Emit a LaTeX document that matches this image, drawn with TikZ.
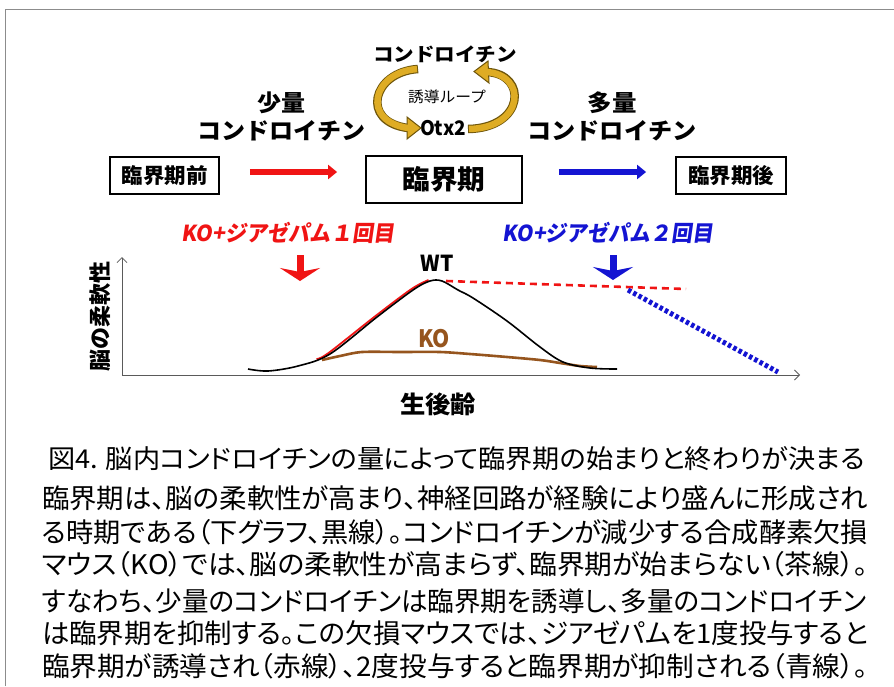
\documentclass[tikz,border=0pt]{standalone}
\usepackage{fontspec}
\usepackage{graphicx}
\setmainfont{Noto Sans CJK JP}
\newfontfamily\jp{Noto Sans CJK JP}
\newfontfamily\jpp[RawFeature=+palt]{Noto Sans CJK JP}
\newfontfamily\jpsl[FakeSlant=0.15]{Noto Sans CJK JP}
\usetikzlibrary{arrows.meta}
\newcommand\fitw[2]{\resizebox{#1}{\height}{#2}}
\definecolor{framec}{RGB}{140,140,140}
\definecolor{goldc}{RGB}{222,172,36}
\definecolor{gdark}{RGB}{110,85,10}
\definecolor{kobrown}{RGB}{150,85,30}
\definecolor{myred}{RGB}{240,20,20}
\definecolor{myblue}{RGB}{20,20,210}
\definecolor{axisc}{RGB}{90,90,90}
\tikzset{
  txt/.style={inner sep=0pt, outer sep=0pt},
  bigb/.style={txt, font=\jp\bfseries},
  boxn/.style={draw=black, line width=1.8pt, inner sep=0pt},
  flowarr/.style={line width=6.5pt, -{Triangle[width=14pt,length=9pt]}},
  downarr/.style={line width=7pt, -{Stealth[width=40pt,length=13pt,inset=4pt]}},
  axisarr/.style={axisc, line width=0.8pt, -{Straight Barb[length=5pt,width=10pt]}},
  band/.style={line cap=butt},
}
\begin{document}
\begin{tikzpicture}[x=1pt,y=-1pt]
\useasboundingbox (0,0) rectangle (894,686);
\fill[white] (0,0) rectangle (894,686);
% frame
\draw[framec, line width=1.8pt] (5.5,686) -- (5.5,9.5) -- (894,9.5);

% top texts
\node[bigb] (chon) at (445,54) {\fitw{144pt}{\fontsize{19}{19}\selectfont コンドロイチン}};
\node[txt, font=\jp] (yudo) at (447,97) {\fitw{78pt}{\fontsize{15}{15}\selectfont 誘導ループ}};
\node[bigb] (otx) at (443,128) {\fitw{46pt}{\fontsize{20}{20}\selectfont Otx2}};
\node[bigb] (shoryo) at (281,103) {\fitw{48pt}{\fontsize{23}{23}\selectfont 少量}};
\node[bigb] (chonL) at (281,131) {\fitw{168pt}{\fontsize{23}{23}\selectfont コンドロイチン}};
\node[bigb] (taryo) at (612,103) {\fitw{49pt}{\fontsize{23}{23}\selectfont 多量}};
\node[bigb] (chonR) at (612,131) {\fitw{169pt}{\fontsize{23}{23}\selectfont コンドロイチン}};

% loop arrows
\coordinate (la1) at (418,69);
\coordinate (la2) at (408,128);
\coordinate (ra1) at (468,129);
\coordinate (ra2) at (487,72);
\draw[gdark, line width=8.5pt, band] (la1) .. controls (372,72) and (360,122) .. (la2);
\draw[gdark, line width=8.5pt, band] (ra1) .. controls (525,128) and (528,74) .. (ra2);
\filldraw[fill=goldc, draw=gdark, line width=1pt, line join=miter] (407,117) -- (421,128) -- (407,139) -- cycle;
\filldraw[fill=goldc, draw=gdark, line width=1pt, line join=miter] (488,61) -- (474,71.5) -- (489,83) -- cycle;
\draw[goldc, line width=6.5pt, band, shorten <=1pt, shorten >=-1.5pt] (la1) .. controls (372,72) and (360,122) .. (la2);
\draw[goldc, line width=6.5pt, band, shorten <=1pt, shorten >=-1.5pt] (ra1) .. controls (525,128) and (528,74) .. (ra2);

% boxes
\node[boxn, minimum width=109pt, minimum height=37pt] (pre) at (164.5,175.5) {};
\node[bigb] at (pre) {\fitw{86pt}{\fontsize{21}{21}\selectfont 臨界期前}};
\node[boxn, minimum width=156pt, minimum height=47pt] (crit) at (444,179.5) {};
\node[bigb] at (crit) {\fitw{83pt}{\fontsize{27}{27}\selectfont 臨界期}};
\node[boxn, minimum width=110pt, minimum height=37pt] (post) at (731,175.5) {};
\node[bigb] at (post) {\fitw{86pt}{\fontsize{21}{21}\selectfont 臨界期後}};

\draw[flowarr, myred] ([xshift=30pt,yshift=3.5pt]pre.east) -- ([xshift=-28pt,yshift=3.5pt]pre.east -| crit.west);
\draw[flowarr, myblue] ([xshift=36pt,yshift=3.5pt]pre.east -| crit.east) -- ([xshift=-29pt,yshift=3.5pt]post.west);

% KO + diazepam labels
\node[txt, font=\jpsl\bfseries, text=myred] (ko1) at (288,233) {\fitw{214pt}{\fontsize{22}{22}\selectfont KO+ジアゼパム１回目}};
\node[txt, font=\jpsl\bfseries, text=myblue] (ko2) at (608,233) {\fitw{211pt}{\fontsize{22}{22}\selectfont KO+ジアゼパム２回目}};
\coordinate (rd1) at (300,255);
\coordinate (rd2) at (300,281);
\coordinate (bd1) at (613,255);
\coordinate (bd2) at (613,280);
\draw[downarr, myred] (rd1) -- (rd2);
\draw[downarr, myblue] (bd1) -- (bd2);

% axes
\coordinate (o) at (122,375);
\coordinate (ytop) at (122,257);
\coordinate (xend) at (800,375);
\draw[axisarr] (o) -- (ytop);
\draw[axisarr] (o) -- (xend);
\node[bigb, rotate=90] (ylab) at (100,316) {\fitw{110pt}{\fontsize{22}{22}\selectfont 脳の柔軟性}};
\node[bigb] (xlab) at (438,404) {\fitw{76pt}{\fontsize{24}{24}\selectfont 生後齢}};

% curves
\draw[myred, line width=1.8pt, shift={(-1.5,-1)}] plot[smooth, tension=0.55] coordinates {(318,360) (330,354) (377,317) (413,290) (430,281)};
\draw[kobrown, line width=2.6pt] plot[smooth, tension=0.5] coordinates {(322,360) (340,356) (362,352) (400,352) (440,352) (470,354) (507,357) (540,360) (560,363) (580,366) (597,367)};
\draw[black, line width=1.6pt] plot[smooth, tension=0.55] coordinates {(248,369) (268,371) (298,366) (330,354) (377,317) (413,290) (430,281) (442,281) (458,290) (473,298) (507,321) (540,347) (563,362) (590,368) (617,369)};
\coordinate (rdash1) at (446,281);
\coordinate (rdash2) at (686,289);
\draw[myred, line width=2.6pt, dash pattern=on 7pt off 5pt] (rdash1) -- (rdash2);
\coordinate (bdash1) at (628,290);
\coordinate (bdash2) at (778,372);
\draw[myblue, line width=5pt, dash pattern=on 3.5pt off 2.5pt] (bdash1) -- (bdash2);
\node[bigb] (wt) at (437,263) {\fitw{33pt}{\fontsize{22}{22}\selectfont WT}};
\node[bigb, text=kobrown] (ko) at (434,339) {\fitw{32pt}{\fontsize{24}{24}\selectfont KO}};

% caption
\node[txt, anchor=west] (title) at (48,459) {\fitw{817pt}{\jpp\fontsize{26}{26}\selectfont 図4. 脳内コンドロイチンの量によって臨界期の始まりと終わりが決まる}};
\node[txt, anchor=west] (l1) at (42,498) {\fitw{826pt}{\jpp\fontsize{27}{27}\selectfont 臨界期は、脳の柔軟性が高まり、神経回路が経験により盛んに形成され}};
\node[txt, anchor=west] (l2) at (42,532) {\fitw{826pt}{\jpp\fontsize{27}{27}\selectfont る時期である（下グラフ、黒線）。コンドロイチンが減少する合成酵素欠損}};
\node[txt, anchor=west] (l3) at (42,564) {\fitw{826pt}{\jpp\fontsize{27}{27}\selectfont マウス（KO）では、脳の柔軟性が高まらず、臨界期が始まらない（茶線）。}};
\node[txt, anchor=west] (l4) at (42,601) {\fitw{824pt}{\jpp\fontsize{27}{27}\selectfont すなわち、少量のコンドロイチンは臨界期を誘導し、多量のコンドロイチン}};
\node[txt, anchor=west] (l5) at (42,633) {\fitw{826pt}{\jpp\fontsize{27}{27}\selectfont は臨界期を抑制する。この欠損マウスでは、ジアゼパムを1度投与すると}};
\node[txt, anchor=west] (l6) at (42,666) {\fitw{826pt}{\jpp\fontsize{27}{27}\selectfont 臨界期が誘導され（赤線）、2度投与すると臨界期が抑制される（青線）。}};
\end{tikzpicture}
\end{document}
